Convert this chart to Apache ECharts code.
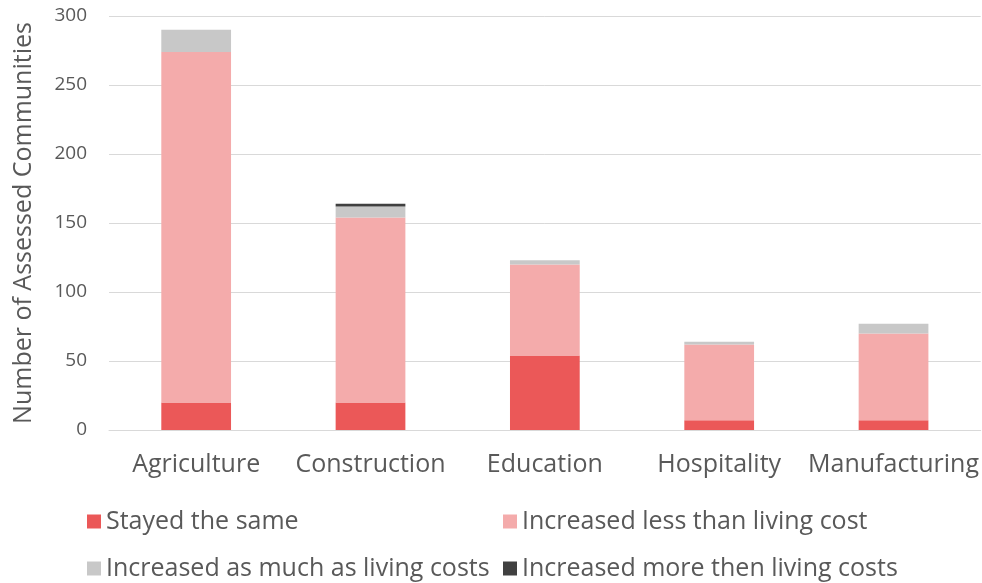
<!DOCTYPE html>
<html>
<head>
<meta charset="utf-8">
<script src="https://cdn.jsdelivr.net/npm/echarts@6/dist/echarts.min.js"></script>
<style>
  html, body { margin: 0; padding: 0; background: #fff; }
  #chart { width: 982px; height: 583px; }
</style>
</head>
<body>
<div id="chart"></div>
<script>
// Sectors on the x axis
const categories = ['Agriculture', 'Construction', 'Education', 'Hospitality', 'Manufacturing'];

// Stacked counts per wage-change outcome
const stayedSame = [20, 20, 54, 7, 7];
const increasedLess = [254, 134, 66, 55, 63];
const increasedAsMuch = [16, 8, 3, 2, 7];
const increasedMore = [0, 2, 0, 0, 0];

const seriesNames = [
  'Stayed the same',
  'Increased less than living cost',
  'Increased as much as living costs',
  'Increased more then living costs'
];
const seriesData = [stayedSame, increasedLess, increasedAsMuch, increasedMore];
const colors = ['#EB5858', '#F4ABAB', '#C8C8C8', '#404040'];

const fontFamily = '"Open Sans", "Noto Sans", sans-serif';
const textColor = '#595959';

const chart = echarts.init(document.getElementById('chart'), null, { renderer: 'canvas' });

// One legend per entry, laid out in a 2x2 arrangement
const legendPos = [
  { left: 82, top: 504 },
  { left: 498, top: 504 },
  { left: 82, top: 551 },
  { left: 498, top: 551 }
];

chart.setOption({
  backgroundColor: '#ffffff',
  animation: false,
  color: colors,
  grid: { left: 109, right: 1, top: 16, bottom: 153, containLabel: false },
  legend: seriesNames.map((name, i) => ({
    data: [name],
    left: legendPos[i].left,
    top: legendPos[i].top,
    icon: 'rect',
    itemWidth: 14,
    itemHeight: 14,
    selectedMode: false,
    textStyle: { fontFamily, fontSize: 25, color: textColor }
  })),
  xAxis: {
    type: 'category',
    data: categories,
    axisLine: { show: true, lineStyle: { color: '#D9D9D9', width: 1 } },
    axisTick: { show: false },
    axisLabel: { fontFamily, fontSize: 25, color: textColor, margin: 22, interval: 0 }
  },
  yAxis: {
    type: 'value',
    min: 0,
    max: 300,
    interval: 50,
    name: 'Number of Assessed Communities',
    nameLocation: 'middle',
    nameGap: 73,
    nameTextStyle: { fontFamily, fontSize: 25, color: textColor },
    axisLine: { show: false },
    axisTick: { show: false },
    axisLabel: { fontFamily, fontSize: 19, color: textColor, margin: 22 },
    splitLine: { lineStyle: { color: '#D9D9D9', width: 1 } }
  },
  series: seriesNames.map((name, i) => ({
    name,
    type: 'bar',
    stack: 'total',
    barWidth: '40%',
    data: seriesData[i],
    itemStyle: { color: colors[i] }
  }))
});
</script>
</body>
</html>
